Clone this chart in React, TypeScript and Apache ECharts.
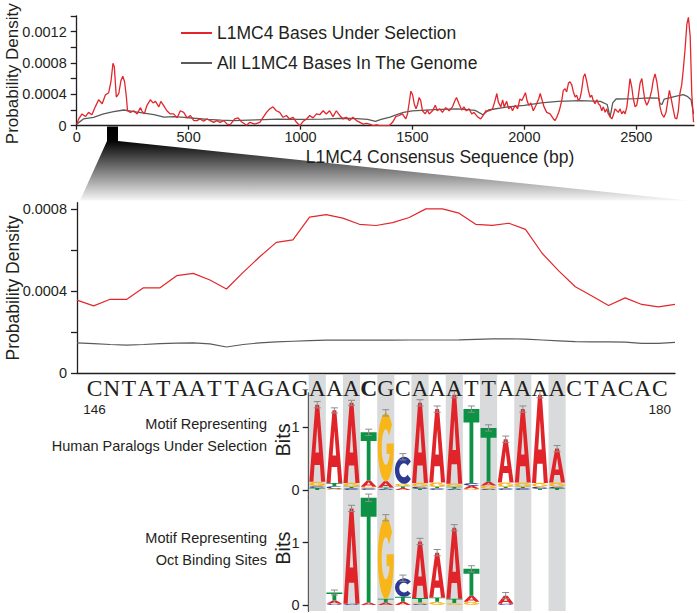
import React, { useEffect, useRef } from "react";
import * as echarts from "echarts";

// ---------- Top panel: whole L1MC4 consensus (density values in units of 1e-4) ----------
const topSelectedBp = [0,9,24,39,53,68,83,98,114,128,143,153,162,168,177,188,198,206,214,222,227,240,255,270,285,291,302,314,329,341,352,367,376,388,403,418,433,449,463,478,493,508,523,537,552,567,582,597,612,626,641,657,672,
685,706,721,736,759,774,795,818,833,848,863,877,892,907,922,937,951,967,982,997,1012,1027,1041,1056,1071,1086,1101,1115,1130,1145,1160,1175,1190,1204,1219,1234,1250,1265,1280,1294,1309,1324,1339,1354,1368,1383,
1396,1411,1426,1441,1455,1470,1478,1488,1493,1501,1508,1516,1523,1530,1537,1545,1557,1567,1575,1590,1602,1611,1622,1634,1649,1664,1679,1690,1697,1708,1720,1730,1741,1753,1765,1775,1790,1805,1816,1828,1843,1858,1869,1877,1884,1895,1903,1910,1921,1930,1940,1947,1959,1970,1980,1989,1997,2005,2012,2020,2029,2040,2052,2064,2071,
2088,2100,2115,2130,2137,2145,2156,2167,2174,2182,2189,2197,2204,2212,2219,2227,2234,2241,2249,2256,2264,2271,2279,2286,2294,2301,2308,2316,2324,2331,2338,2346,2353,2361,2368,2375,2383,2391,2398,2405,2413,2420,2428,2435,2443,2450,2458,2465,2472,2480,2487,2495,2502,2509,2517,2525,2532,2539,2547,2554,2562,2569,2576,2584,2592,2599,2606,2614,2624,2633,2641,2648,2655,2663,2673,2681,2688,2695,2703,2710,2718,2726,2733,2741,2748,2756];
const topSelectedDensity = [0.2,0.86,1.5,1.16,1.7,1.4,2.4,3.3,2.8,3.9,4.2,5.6,7.96,7.5,3.65,4.1,5.8,6.3,5.6,3.65,1.9,1.7,1.9,1.5,2.3,1.9,1.5,2.6,3.3,2.9,3.1,2.4,3.1,2.6,1.9,1.5,1.5,1.0,1.9,1.7,1.0,1.3,0.65,0.65,0.86,0.56,0.86,0.65,0.43,0.65,0.43,0.65,0.2,
0.1,0.86,1.0,0.5,0.05,0.43,0.2,0.43,1.07,1.7,2.15,2.4,1.9,1.7,1.07,1.3,0.86,1.07,0.43,0,0.56,0.86,1.3,1.0,1.5,1.4,1.9,1.5,1.9,1.16,1.9,1.3,0.86,1.07,0.65,1.07,0.65,0.43,0.2,0.3,0.2,0,0.1,0,0,0,
0,0.43,1.16,1.3,1.5,0.86,1.5,3.4,4.4,3.9,2.8,2.15,2.7,3.6,3.2,1.9,1.5,2.0,1.5,1.9,2.6,1.9,2.15,1.7,2.3,1.9,2.4,3.2,3.6,2.8,2.0,2.4,1.9,2.15,1.5,1.7,1.16,0.86,1.3,1.9,1.9,2.15,3.2,4.1,3.0,2.4,3.3,2.4,3.1,2.15,2.4,1.9,2.6,2.15,3.4,3.2,3.7,4.2,3.2,2.6,2.9,1.9,2.6,3.4,4.1,
2.4,1.7,1.5,0.86,0.65,1.07,1.9,3.2,4.5,4.7,4.3,5.4,5.6,5.2,4.3,3.65,3.9,3.2,3.5,4.5,6.2,6.6,5.6,4.5,3.6,3.9,3.2,2.8,3.3,2.8,2.6,1.9,2.4,1.7,2.15,1.5,1.16,0.86,1.4,2.15,1.9,1.7,2.15,1.5,1.85,1.5,2.4,4.1,6.0,4.9,3.4,2.4,2.6,3.7,5.4,6.0,4.5,3.2,2.6,3.0,3.7,4.5,5.8,6.6,5.6,4.1,2.4,1.5,1.07,1.7,3.2,4.5,3.6,2.4,1.0,0.86,1.9,4.1,5.2,7.1,9.7,12.9,13.8,11.4,4.1,0.43];
const topGenomeBp = [0,30,75,120,165,210,255,300,345,390,435,480,525,585,645,700,800,900,1000,1100,1190,1250,1300,1335,1360,1400,1430,1460,1500,1600,1700,1780,1815,1840,1925,2000,2076,2150,2250,2340,2370,2383,2395,2410,2500,2560,2600,2606,2615,2625,2670,2710,2730,2745,2756];
const topGenomeDensity = [0.2,0.86,1.07,1.5,1.8,2.0,1.8,1.6,1.4,1.1,1.16,1.07,0.95,0.8,0.7,0.65,0.75,0.85,0.8,0.85,0.95,0.9,0.8,0.55,0.8,1.1,1.4,1.7,1.9,2.05,2.15,1.95,1.4,2.0,2.4,2.6,2.9,3.1,3.2,3.1,2.7,1.1,2.9,3.4,3.45,3.55,3.5,2.8,2.7,3.4,3.7,3.95,3.7,3.3,1.5];
const topXTickStep = 500;

// ---------- Middle panel: zoom on positions 146-180 (units of 1e-4) ----------
const zoomSelectedDensity = [3.56,3.28,3.6,3.6,4.16,4.16,4.75,4.86,4.54,4.1,4.91,5.67,6.37,6.49,7.6,7.72,7.55,7.25,7.19,7.33,7.58,8.0,8.0,7.79,7.25,7.2,7.3,7.0,5.84,4.98,4.21,3.76,3.3,3.67,3.35,3.23,3.35];
const zoomGenomeDensity = [1.48,1.44,1.4,1.37,1.4,1.44,1.47,1.48,1.43,1.28,1.4,1.48,1.53,1.56,1.59,1.61,1.62,1.61,1.61,1.61,1.62,1.62,1.62,1.63,1.65,1.67,1.68,1.66,1.62,1.58,1.54,1.53,1.53,1.52,1.46,1.46,1.5];

// ---------- Sequence and motif logos ----------
const sequenceLetters = "CNTATAATTAGAGAAACGCAAATTAAAACTACAC".split("");
const boldLetterIndex = 16;
const sequenceStartLabel = "146";
const sequenceEndLabel = "180";
const logoFirstColumn = 13;
const stripeColumns = [13, 15, 17, 19, 21, 23, 25, 27];

const logo1Letters = ["TCGA","GCTA","CTGA","CGAT","CTAG","ATGC","TCGA","CTGA","CTGA","GACT","CGAT","CTGA","CTGA","TCGA","TCGA"];
const logo1Heights = [[0.03,0.03,0.07,1.23],[0.02,0.04,0.05,1.16],[0.03,0.02,0.06,1.28],[0.03,0.02,0.1,0.77],[0.02,0.02,0.1,1.09],[0.03,0.03,0.04,0.43],[0.02,0.03,0.06,1.28],[0.03,0.02,0.07,1.17],[0.02,0.03,0.05,1.42],[0.02,0.05,0.04,1.18],[0.02,0.05,0.06,0.86],[0.03,0.02,0.07,0.69],[0.03,0.02,0.07,1.17],[0.02,0.03,0.06,1.41],[0.03,0.02,0.07,0.54]];
const logo1Errors = [0.05,0.04,0.04,0.05,0.05,0.05,0.05,0.05,0.05,0.05,0.05,0.05,0.05,0.05,0.05];

const logo2Letters = ["","CAT","CA","AT","ATG","ATC","CGTA","GTA","GTA","GAT","","CA","","",""];
const logo2Heights = [[],[0.02,0.05,0.13],[0.02,1.53],[0.04,1.68],[0.04,0.06,1.3],[0.05,0.08,0.3],[0.02,0.02,0.07,0.91],[0.05,0.07,0.72],[0.03,0.07,1.14],[0.05,0.1,0.43],[],[0.02,0.13],[],[],[]];
const logo2Errors = [0,0.04,0.05,0.06,0.05,0.05,0.05,0.05,0.05,0.05,0,0.05,0,0,0];

const GLYPHS: Record<string, string> = {
  A: "M0 100 L38 0 L62 0 L100 100 L74 100 L67 78 L33 78 L26 100 Z M50 28 L39 62 L61 62 Z",
  T: "M0 0 L100 0 L100 18 L62 18 L62 100 L38 100 L38 18 L0 18 Z",
  C: "M88.3 17.9 A50 50 0 1 0 88.3 82.1 L69.9 66.7 A26 26 0 1 1 69.9 33.3 Z",
  G: "M88.3 17.9 A50 50 0 1 0 99.7 55.2 L99.7 45 L55 45 L55 60 L74 60 A26 26 0 1 1 69.9 33.3 Z",
};
const LETTER_COLORS: Record<string, string> = { A: "#e1242a", T: "#0c9145", G: "#f8b619", C: "#2c3a92" };

const INK = "#231f20";
const FONT = "Liberation Sans";
const RED = "#e3262c";
const GRAY = "#5a5a5a";

const L = 86;
const BAND = 17.13;
const N = sequenceLetters.length;

function logoRender(letters: string[], heights: number[][], errors: number[]) {
  return (params: any, api: any) => {
    const c = api.value(0);
    const xc = api.coord([c, 0])[0];
    const bw = api.size([1, 0])[0];
    const w = bw * 0.93;
    const children: any[] = [];
    let cum = 0;
    const ls = letters[c];
    const hs = heights[c];
    for (let i = 0; i < ls.length; i++) {
      const yb = api.coord([c, cum])[1];
      const yt = api.coord([c, cum + hs[i]])[1];
      children.push({
        type: "path",
        shape: { pathData: GLYPHS[ls[i]], layout: "cover", x: xc - w / 2, y: yt, width: w, height: Math.max(yb - yt, 0.6) },
        style: { fill: LETTER_COLORS[ls[i]] },
      });
      cum += hs[i];
    }
    const e = errors[c];
    if (e > 0) {
      const yTop = api.coord([c, cum + e])[1];
      const yBot = api.coord([c, cum - e])[1];
      const st = { stroke: "#8d8d8d", lineWidth: 1 };
      children.push({ type: "line", shape: { x1: xc, y1: yTop, x2: xc, y2: yBot }, style: st });
      children.push({ type: "line", shape: { x1: xc - 3.5, y1: yTop, x2: xc + 3.5, y2: yTop }, style: st });
      children.push({ type: "line", shape: { x1: xc - 3.5, y1: yBot, x2: xc + 3.5, y2: yBot }, style: st });
    }
    return { type: "group", children };
  };
}

function logoYAxis(gridIndex: number, min: number, max: number, namePad: number) {
  return {
    gridIndex, type: "value", min, max,
    axisLine: { show: true, lineStyle: { color: INK, width: 1.3 } },
    axisTick: { show: true, length: 6, customValues: [0, 1], lineStyle: { color: INK, width: 1.3 } },
    axisLabel: { customValues: [0, 1], fontSize: 14.5, margin: 9, color: INK, fontFamily: FONT },
    splitLine: { show: false },
    name: "Bits", nameLocation: "middle", nameGap: 16, nameMoveOverlap: false,
    nameTextStyle: { fontSize: 20, color: INK, fontFamily: FONT, padding: [0, 0, 0, namePad] },
  };
}

const logoCategories = Array.from({ length: 15 }, (_, i) => String(i));
const hiddenCat = (gridIndex: number, data: string[]) => ({
  gridIndex, type: "category", data, show: false, boundaryGap: true,
});

const fmtDensity = (v: number) => (v === 0 ? "0" : (Math.round(v * 1e4) / 1e4).toFixed(4));
const GRID_BASE = { outerBoundsMode: "none", containLabel: false };

const option: any = {
  animation: false,
  textStyle: { fontFamily: FONT },
  legend: {
    left: 176, top: 18, orient: "vertical", itemWidth: 31, itemHeight: 2, itemGap: 10,
    icon: "rect", selectedMode: false,
    data: ["L1MC4 Bases Under Selection", "All L1MC4 Bases In The Genome"],
    textStyle: { fontSize: 17.5, color: INK, fontFamily: FONT, lineHeight: 20 },
  },
  grid: [
    { ...GRID_BASE, left: 76.7, top: 15.8, width: 617.3, height: 109.9 },
    { ...GRID_BASE, left: 77, top: 202.7, width: 598, height: 170.6 },
    { ...GRID_BASE, left: L, top: 373.3, width: N * BAND, height: 1 },
    { ...GRID_BASE, left: L, top: 375, width: N * BAND, height: 236 },
    { ...GRID_BASE, left: L + logoFirstColumn * BAND, top: 392.8, width: 15 * BAND, height: 104.1 },
    { ...GRID_BASE, left: L + logoFirstColumn * BAND, top: 497.2, width: 15 * BAND, height: 114 },
  ],
  xAxis: [
    {
      gridIndex: 0, type: "value", min: 0, max: 2758, interval: topXTickStep,
      axisLine: { show: true, lineStyle: { color: INK, width: 1.3 } },
      axisTick: { show: true, length: 4, lineStyle: { color: INK, width: 1.3 } },
      axisLabel: { fontSize: 14.5, color: INK, margin: 4, showMaxLabel: false, formatter: (v: number) => String(v) },
      splitLine: { show: false },
    },
    {
      gridIndex: 1, type: "value", min: 0, max: zoomSelectedDensity.length - 1,
      axisLine: { show: true, lineStyle: { color: INK, width: 1.3 } },
      axisTick: { show: false }, axisLabel: { show: false }, splitLine: { show: false },
    },
    {
      gridIndex: 2, type: "category", position: "bottom", data: sequenceLetters, boundaryGap: true, z: 10,
      axisLine: { show: false }, axisTick: { show: false },
      axisLabel: {
        interval: 0, margin: 1,
        formatter: (val: string, idx: number) => `{${idx === boldLetterIndex ? "b" : "s"}|${val}}`,
        rich: {
          s: { fontFamily: "Liberation Serif", fontSize: 23.5, lineHeight: 26, color: INK },
          b: { fontFamily: "Liberation Serif", fontSize: 23.5, lineHeight: 26, color: INK, fontWeight: "bold" },
        },
      },
    },
    hiddenCat(3, sequenceLetters),
    hiddenCat(4, logoCategories),
    hiddenCat(5, logoCategories),
    {
      gridIndex: 2, type: "category", position: "bottom", offset: 0, data: sequenceLetters, boundaryGap: true, z: 10,
      axisLine: { show: false }, axisTick: { show: false },
      axisLabel: {
        interval: 0, margin: 28, fontSize: 13.5, color: INK,
        formatter: (val: string, idx: number) => (idx === 0 ? sequenceStartLabel : idx === N - 1 ? sequenceEndLabel : ""),
      },
    },
  ],
  yAxis: [
    {
      gridIndex: 0, type: "value", min: 0, max: 0.0014, interval: 0.0002,
      axisLine: { show: true, lineStyle: { color: INK, width: 1.3 } },
      axisTick: { show: true, length: 6, lineStyle: { color: INK, width: 1.3 } },
      axisLabel: {
        fontSize: 14.5, color: INK, margin: 10,
        formatter: (v: number) => (Math.round(v * 1e4) % 4 === 0 ? fmtDensity(v) : ""),
      },
      splitLine: { show: false },
      name: "Probability Density", nameLocation: "middle", nameGap: 56, nameMoveOverlap: false,
      nameTextStyle: { fontSize: 17, color: INK, padding: [0, 6, 0, 0] },
    },
    {
      gridIndex: 1, type: "value", min: 0, max: 0.00083,
      axisLine: { show: true, lineStyle: { color: INK, width: 1.3 } },
      axisTick: { show: true, length: 6, customValues: [0, 0.0002, 0.0004, 0.0006, 0.0008], lineStyle: { color: INK, width: 1.3 } },
      axisLabel: { customValues: [0, 0.0004, 0.0008], fontSize: 14.5, color: INK, margin: 10, formatter: fmtDensity },
      splitLine: { show: false },
      name: "Probability Density", nameLocation: "middle", nameGap: 55, nameMoveOverlap: false,
      nameTextStyle: { fontSize: 17.5, color: INK },
    },
    { gridIndex: 2, type: "value", show: false },
    { gridIndex: 3, type: "value", min: 0, max: 1, show: false },
    logoYAxis(4, -0.11, 1.55, 10),
    logoYAxis(5, -0.1, 1.73, 12),
  ],
  series: [
    {
      name: "L1MC4 Bases Under Selection", type: "line", xAxisIndex: 0, yAxisIndex: 0,
      symbol: "none", z: 4, lineStyle: { color: RED, width: 1.3 }, itemStyle: { color: RED },
      data: topSelectedBp.map((b, i) => [b, topSelectedDensity[i] * 1e-4]),
    },
    {
      name: "All L1MC4 Bases In The Genome", type: "line", xAxisIndex: 0, yAxisIndex: 0,
      symbol: "none", z: 3, lineStyle: { color: GRAY, width: 1.3 }, itemStyle: { color: GRAY },
      data: topGenomeBp.map((b, i) => [b, topGenomeDensity[i] * 1e-4]),
    },
    {
      name: "zoom selected", type: "line", xAxisIndex: 1, yAxisIndex: 1,
      symbol: "none", lineStyle: { color: RED, width: 1.2 },
      data: zoomSelectedDensity.map((v, i) => [i, v * 1e-4]),
    },
    {
      name: "zoom genome", type: "line", xAxisIndex: 1, yAxisIndex: 1,
      symbol: "none", lineStyle: { color: GRAY, width: 1.2 },
      data: zoomGenomeDensity.map((v, i) => [i, v * 1e-4]),
    },
    {
      name: "stripes", type: "custom", xAxisIndex: 3, yAxisIndex: 3, z: 1, silent: true,
      data: stripeColumns.map((c) => [c, 1]),
      renderItem: (params: any, api: any) => {
        const i = api.value(0);
        const bw = api.size([1, 0])[0];
        const top = api.coord([i, 1]);
        const bot = api.coord([i, 0]);
        return { type: "rect", shape: { x: top[0] - bw / 2, y: top[1], width: bw, height: bot[1] - top[1] }, style: { fill: "#d9dadb" } };
      },
    },
    {
      name: "logo human", type: "custom", xAxisIndex: 4, yAxisIndex: 4, z: 5, silent: true,
      data: logo1Letters.map((s, c) => [c, logo1Heights[c].reduce((a, b) => a + b, 0)]),
      renderItem: logoRender(logo1Letters, logo1Heights, logo1Errors),
    },
    {
      name: "logo oct", type: "custom", xAxisIndex: 5, yAxisIndex: 5, z: 5, silent: true,
      data: logo2Letters.map((s, c) => [c, logo2Heights[c].reduce((a, b) => a + b, 0)]).filter((d) => logo2Letters[d[0]].length > 0),
      renderItem: logoRender(logo2Letters, logo2Heights, logo2Errors),
    },
  ],
  graphic: [
    {
      type: "polygon", z: 0, silent: true,
      shape: { points: [[107, 126.5], [118, 126.5], [118, 141], [688, 200.5], [80, 200.5], [107, 141]] },
      style: {
        fill: {
          type: "linear", x: 0, y: 0, x2: 0, y2: 1,
          colorStops: [ { offset: 0, color: "#000" }, { offset: 0.2, color: "#050505" }, { offset: 1, color: "#f6f6f6" } ],
        },
      },
    },
    { type: "text", x: 440, y: 157, style: { text: "L1MC4 Consensus Sequence (bp)", font: `17.5px "${FONT}"`, fill: INK, align: "center", verticalAlign: "middle", textAlign: "center", textVerticalAlign: "middle" } },
    { type: "text", x: 267, y: 424, style: { text: "Motif Representing", font: `14.5px "${FONT}"`, fill: INK, align: "right", verticalAlign: "middle", textAlign: "right", textVerticalAlign: "middle" } },
    { type: "text", x: 267, y: 446, style: { text: "Human Paralogs Under Selection", font: `14.5px "${FONT}"`, fill: INK, align: "right", verticalAlign: "middle", textAlign: "right", textVerticalAlign: "middle" } },
    { type: "text", x: 267, y: 538, style: { text: "Motif Representing", font: `14.5px "${FONT}"`, fill: INK, align: "right", verticalAlign: "middle", textAlign: "right", textVerticalAlign: "middle" } },
    { type: "text", x: 267, y: 560, style: { text: "Oct Binding Sites", font: `14.5px "${FONT}"`, fill: INK, align: "right", verticalAlign: "middle", textAlign: "right", textVerticalAlign: "middle" } },
  ],
};

export default function App() {
  const ref = useRef<HTMLDivElement>(null);
  useEffect(() => {
    document.body.style.margin = "0";
    const chart = echarts.init(ref.current!, null, { renderer: "svg" });
    chart.setOption(option);
    return () => chart.dispose();
  }, []);
  return <div ref={ref} style={{ width: 697, height: 613 }} />;
}
